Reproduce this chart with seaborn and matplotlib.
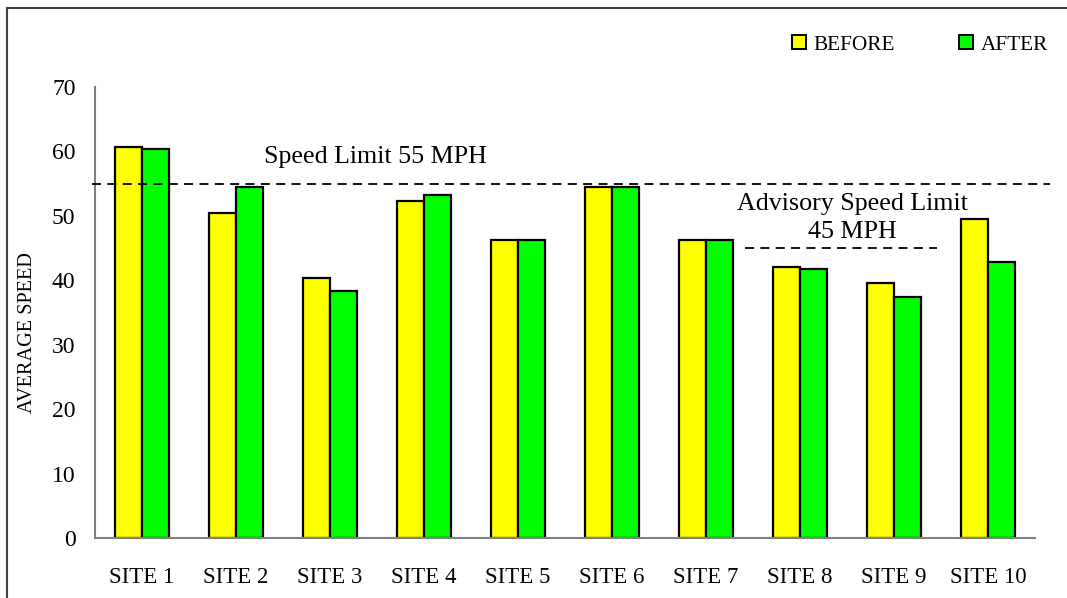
import matplotlib
matplotlib.use("Agg")
import matplotlib.pyplot as plt
import seaborn as sns
import pandas as pd
from matplotlib.patches import Rectangle, Patch

sites = ["SITE 1", "SITE 2", "SITE 3", "SITE 4", "SITE 5",
         "SITE 6", "SITE 7", "SITE 8", "SITE 9", "SITE 10"]
before = [60.7, 50.4, 40.3, 52.3, 46.2, 54.5, 46.2, 42.1, 39.6, 49.5]
after = [60.4, 54.5, 38.3, 53.3, 46.2, 54.5, 46.2, 41.8, 37.4, 42.9]
series = ["BEFORE", "AFTER"]
colors = ["#FFFF00", "#00FF00"]
speed_limit = 55
advisory_limit = 45

df = pd.DataFrame({
    "site": sites * 2,
    "speed": before + after,
    "period": [series[0]] * len(sites) + [series[1]] * len(sites),
})

sns.set_theme(style="white")
plt.rcParams["font.family"] = ["Liberation Serif", "DejaVu Serif"]
plt.rcParams["text.color"] = "black"
plt.rcParams["xtick.color"] = "black"
plt.rcParams["ytick.color"] = "black"
plt.rcParams["axes.labelcolor"] = "black"

fig = plt.figure(figsize=(10.67, 5.98), dpi=100)
ax = fig.add_axes([95 / 1067, 60 / 598, 940 / 1067, 451 / 598])

sns.barplot(data=df, x="site", y="speed", hue="period", palette=colors,
            width=0.575, edgecolor="black", linewidth=1.6, ax=ax,
            legend=False, saturation=1)

ax.set_ylim(0, 70)
ax.set_xlim(-0.5, 9.5)
ax.set_yticks(range(0, 71, 10))
ax.set_xlabel("")
ax.set_ylabel("")
ax.tick_params(axis="x", labelsize=16.5, pad=21, length=0)
ax.tick_params(axis="y", labelsize=17, pad=14, length=0)
for s in ["top", "right"]:
    ax.spines[s].set_visible(False)
for s in ["left", "bottom"]:
    ax.spines[s].set_color("#808080")
    ax.spines[s].set_linewidth(1.5)

fig.text(28 / 1067, 1 - 333 / 598, "AVERAGE SPEED", rotation=90, fontsize=14.6,
         ha="center", va="center")

# speed limit lines
ax.plot([-0.53, 9.66], [speed_limit, speed_limit], color="black", lw=1.3,
        linestyle=(0, (5, 3.5)), clip_on=False, zorder=5)
ax.text(1.30, 59.2, "Speed Limit 55 MPH", fontsize=18.7, va="center", ha="left")
ax.plot([6.41, 8.46], [advisory_limit, advisory_limit], color="black", lw=1.3,
        linestyle=(0, (5, 3.5)), zorder=5)
ax.text(7.56, 49.7, "Advisory Speed Limit\n45 MPH", fontsize=18.7,
        va="center", ha="center", linespacing=1.35)

handles = [Patch(facecolor=c, edgecolor="black", linewidth=1.4) for c in colors]
fig.legend(handles, series, loc="center left", bbox_to_anchor=(792 / 1067, 1 - 45 / 598),
           ncol=2, frameon=False, fontsize=15.3, handlelength=0.65, handleheight=0.65,
           handletextpad=0.38, columnspacing=3.0, borderaxespad=0, borderpad=0)

# figure frame
fig.patches.append(Rectangle((7 / 1067, -0.1), 1.2, (598 - 8) / 598 + 0.1,
                             transform=fig.transFigure, fill=False,
                             edgecolor="#404040", linewidth=1.5))

fig.savefig("out.png", dpi=100)
